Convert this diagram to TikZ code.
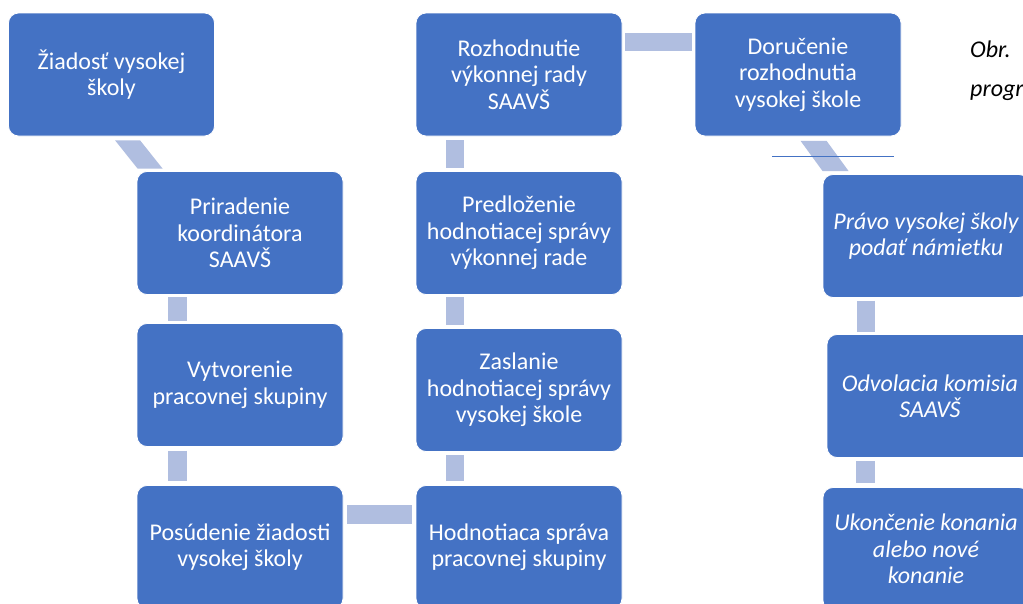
\documentclass[tikz,border=0pt]{standalone}
\usepackage{fontspec}
\setmainfont{Carlito}
\usetikzlibrary{calc}
\definecolor{boxblue}{HTML}{4472C4}
\definecolor{barblue}{HTML}{B0BEE0}
\definecolor{lineblue}{HTML}{4472C4}
\tikzset{
  box/.style={fill=boxblue, draw=white, line width=0.8pt, rounded corners=10pt,
    minimum width=206pt, minimum height=123pt, align=center, text=white,
    font=\fontsize{24}{26.5}\selectfont, inner sep=0pt},
  ibox/.style={box, font=\fontsize{24}{26.5}\selectfont\itshape},
  bar/.style={draw=barblue, line width=18.5pt},
  dbar/.style={fill=barblue},
  captext/.style={font=\fontsize{24}{26}\selectfont\itshape, text=black, anchor=base west, inner sep=0pt}
}
\begin{document}
\begin{tikzpicture}[x=1pt,y=-1pt]
\useasboundingbox (0,0) rectangle (1023,603);
\clip (0,0) rectangle (1023,603);
\fill[white] (0,0) rectangle (1023,603);

% boxes
\node[box] (n1) at (111.5,74.5) {Žiadosť vysokej\\školy};
\node[box] (n2) at (240,233) {Priradenie\\koordinátora\\SAAVŠ};
\node[box] (n3) at (240,385) {Vytvorenie\\pracovnej skupiny};
\node[box] (n4) at (240,547) {Posúdenie žiadosti\\vysokej školy};
\node[box] (n5) at (519,547) {Hodnotiaca správa\\pracovnej skupiny};
\node[box] (n6) at (519,390) {Zaslanie\\hodnotiacej správy\\vysokej škole};
\node[box] (n7) at (519,233) {Predloženie\\hodnotiacej správy\\výkonnej rade};
\node[box] (n8) at (519,74.5) {Rozhodnutie\\výkonnej rady\\SAAVŠ};
\node[box] (n9) at (798,74.5) {Doručenie\\rozhodnutia\\vysokej škole};
\node[ibox] (n10) at (926,236) {Právo vysokej školy\\podať námietku};
\node[ibox] (n11) at (930,396) {Odvolacia komisia\\SAAVŠ};
\node[ibox] (n12) at (926,549) {Ukončenie konania\\alebo nové\\konanie};

% connectors
\fill[dbar] ($(n1.south west)+(107,4)$) -- ++(25,0) -- ($(n2.north west)+(26,-2.5)$) -- ++(-25,0) -- cycle;
\draw[bar, shorten <=2.5pt, shorten >=2.5pt] ([xshift=-62.5pt]n2.south) -- ([xshift=-62.5pt]n3.north);
\draw[bar, shorten <=4pt, shorten >=4pt] ([xshift=-62.5pt]n3.south) -- ([xshift=-62.5pt]n4.north);
\draw[bar, shorten <=4pt, shorten >=4pt] ([yshift=-29.5pt]n4.north east) -- ([yshift=-29.5pt]n5.north west);
\draw[bar, shorten <=4pt, shorten >=3.5pt] ([xshift=-64pt]n5.north) -- ([xshift=-64pt]n6.south);
\draw[bar, shorten <=3.5pt, shorten >=2.5pt] ([xshift=-64pt]n6.north) -- ([xshift=-64pt]n7.south);
\draw[bar, shorten <=3.5pt, shorten >=4pt] ([xshift=-64pt]n7.north) -- ([xshift=-64pt]n8.south);
\draw[bar, shorten <=3pt, shorten >=3pt] ([yshift=-29.5pt]n8.north east) -- ([yshift=-29.5pt]n9.north west);
\fill[dbar] ($(n9.south west)+(106,4.5)$) -- ++(26,0) -- ($(n10.north west)+(26,-3)$) -- ++(-26,0) -- cycle;
\draw[bar, shorten <=3pt, shorten >=2.5pt] ([xshift=-60pt]n10.south) -- ([xshift=-60pt]n10.south |- n11.north);
\draw[bar, shorten <=3.5pt, shorten >=4pt] ([xshift=-64.5pt]n11.south) -- ([xshift=-64.5pt]n11.south |- n12.north);

% stray line
\coordinate (l1) at (772,156);
\coordinate (l2) at (894,156);
\draw[lineblue, line width=0.9pt] (l1) -- (l2);

% caption (cut off)
\node[captext] (c1) at (970,57) {Obr.};
\node[captext] (c2) at (970,96) {progr};
\end{tikzpicture}
\end{document}
